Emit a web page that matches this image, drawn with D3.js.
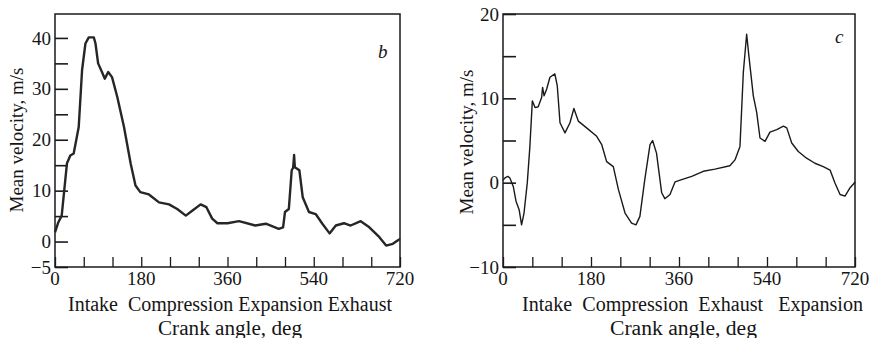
<!DOCTYPE html>
<html>
<head>
<meta charset="utf-8">
<script src="https://cdn.jsdelivr.net/npm/d3@7"></script>
<style>
  html, body { margin: 0; padding: 0; background: #fff; }
  svg { display: block; }
  text { font-family: "Liberation Serif", "DejaVu Serif", serif; fill: #151515; }
</style>
</head>
<body>
<svg id="chart" width="871" height="338"></svg>
<script>
// ---------------- data ----------------
const xTickValues = [0, 60, 120, 180, 240, 300, 360, 420, 480, 540, 600, 660, 720];
const xTickLabels = [0, 180, 360, 540, 720];

const yTickValuesB = [-5, 0, 5, 10, 15, 20, 25, 30, 35, 40];
const yTickLabelsB = [-5, 0, 10, 20, 30, 40];
const yTickValuesC = [-10, -5, 0, 5, 10, 15, 20];
const yTickLabelsC = [-10, 0, 10, 20];

const phasesB = ["Intake", "Compression", "Expansion", "Exhaust"];
const phasesC = ["Intake", "Compression", "Exhaust", "Expansion"];
const xTitle = "Crank angle, deg";
const yTitle = "Mean velocity, m/s";

const anglesB = [0, 7, 14, 25, 32, 39, 49.5, 56.5, 63.5, 70.5, 81, 84.5, 90, 98, 104, 111, 119, 130, 144, 158, 168, 178, 196, 217, 238, 255, 273, 287, 304, 316, 328, 339, 360, 384, 418, 440, 467, 476, 480, 488, 494, 497, 499, 500.5, 510, 517, 530, 544, 558, 573, 586, 603, 617, 638, 656, 677, 691, 705, 715, 720];
const velocityB = [1.8, 3.8, 5.1, 15.4, 16.9, 17.3, 22.5, 33.7, 38.9, 40.1, 40.1, 38.9, 35, 33.3, 32, 33.3, 32.3, 28.4, 22.5, 15.3, 11, 9.7, 9.25, 7.7, 7.3, 6.4, 5.1, 6.1, 7.3, 6.75, 4.5, 3.6, 3.6, 4.0, 3.15, 3.5, 2.5, 2.8, 5.8, 6.4, 14, 14.5, 17, 14.6, 14, 8.7, 5.8, 5.4, 3.5, 1.6, 3.15, 3.6, 3.15, 4.0, 2.8, 0.85, -0.8, -0.45, 0.2, 0.5];

const anglesC = [0, 5, 10, 14, 21, 26.6, 33, 38, 43, 49.7, 55, 60, 65.5, 72, 79, 81, 84, 89.4, 96, 106, 111, 116.6, 126.8, 137, 145, 154, 171, 191.6, 202, 212, 225.6, 236, 249.6, 263, 272, 280, 290, 300.7, 306, 314, 324.6, 331, 341.6, 352, 365.5, 386, 409.7, 433.6, 464, 474.5, 484.7, 491.6, 498.4, 503, 512, 519, 525.7, 536, 546, 560, 573.6, 580.4, 590.6, 604, 621, 638, 655, 669, 679, 689.4, 699.6, 710, 718.6, 720];
const velocityC = [0.3, 0.6, 0.75, 0.55, -0.45, -2.2, -3.2, -5, -3.6, 0, 4.3, 9.7, 8.9, 9.0, 10.1, 11.3, 10.3, 11.1, 12.5, 12.9, 11.5, 7.1, 5.9, 7.1, 8.8, 7.3, 6.5, 5.5, 4.5, 2.5, 1.9, -0.8, -3.6, -4.8, -5, -4, 0.36, 4.5, 5.0, 3.5, -1.2, -1.9, -1.4, 0.1, 0.36, 0.75, 1.35, 1.6, 2.0, 2.7, 4.3, 13.1, 17.6, 15, 10.3, 8.3, 5.3, 4.9, 6.0, 6.3, 6.7, 6.5, 4.7, 3.7, 2.9, 2.3, 1.9, 1.5, -0.05, -1.4, -1.6, -0.6, -0.05, 0.1];

// ---------------- layout ----------------
const svg = d3.select("#chart");

const panels = [
  {
    id: "b", tag: "b",
    angles: anglesB, values: velocityB,
    x0: 55, x1: 400, yDomain: [-5, 44.7],
    yTicks: yTickValuesB, yLabels: yTickLabelsB,
    phases: phasesB, phaseGaps: ["\u00a0\u00a0", " ", " "], phaseSpan: [68, 392],
    titleSpan: [158, 302], yTitleX: 16, yTitleY: 140,
    tagPos: [378, 58], lineWidth: 2.4, lineColor: "#262626"
  },
  {
    id: "c", tag: "c",
    angles: anglesC, values: velocityC,
    x0: 503, x1: 855, yDomain: [-10, 20],
    yTicks: yTickValuesC, yLabels: yTickLabelsC,
    phases: phasesC, phaseGaps: ["\u00a0\u00a0", "\u00a0\u00a0", "\u00a0\u00a0\u00a0"], phaseSpan: [522, 863],
    titleSpan: [610, 757], yTitleX: 466, yTitleY: 142,
    tagPos: [835, 43], lineWidth: 1.4, lineColor: "#1a1a1a"
  }
];

const plotTop = 14, plotBottom = 267;

panels.forEach(p => {
  const x = d3.scaleLinear().domain([0, 720]).range([p.x0, p.x1]);
  const y = d3.scaleLinear().domain(p.yDomain).range([plotBottom, plotTop]);
  const g = svg.append("g").attr("class", "panel-" + p.id);

  // frame
  g.append("rect")
    .attr("x", p.x0).attr("y", plotTop)
    .attr("width", p.x1 - p.x0).attr("height", plotBottom - plotTop)
    .attr("fill", "none").attr("stroke", "#1a1a1a").attr("stroke-width", 1.5);

  // x axis (ticks inward)
  const xAxis = d3.axisTop(x)
    .tickValues(xTickValues)
    .tickSize(10)
    .tickFormat("");
  const gx = g.append("g").attr("transform", `translate(0,${plotBottom})`).call(xAxis);
  gx.select(".domain").remove();
  gx.selectAll(".tick line").attr("stroke", "#1a1a1a").attr("stroke-width", 1.3);

  g.selectAll(".xlab").data(xTickLabels).join("text")
    .attr("class", "xlab")
    .attr("x", d => x(d)).attr("y", 285)
    .attr("text-anchor", "middle")
    .attr("font-size", 19)
    .text(d => d);

  // y axis (ticks inward)
  const yAxis = d3.axisRight(y)
    .tickValues(p.yTicks)
    .tickSize(13)
    .tickFormat("");
  const gy = g.append("g").attr("transform", `translate(${p.x0},0)`).call(yAxis);
  gy.select(".domain").remove();
  gy.selectAll(".tick line").attr("stroke", "#1a1a1a").attr("stroke-width", 1.6);

  g.selectAll(".ylab").data(p.yLabels).join("text")
    .attr("class", "ylab")
    .attr("x", p.x0 - 4).attr("y", d => y(d))
    .attr("dy", "0.35em")
    .attr("text-anchor", "end")
    .attr("font-size", 19)
    .text(d => d < 0 ? "\u2212" + Math.abs(d) : d);

  // curve
  const pts = p.angles.map((a, i) => [a, p.values[i]]);
  g.append("path")
    .datum(pts)
    .attr("fill", "none")
    .attr("stroke", p.lineColor)
    .attr("stroke-width", p.lineWidth)
    .attr("stroke-linejoin", "round")
    .attr("d", d3.line().x(d => x(d[0])).y(d => y(d[1])));

  // panel tag
  g.append("text")
    .attr("x", p.tagPos[0]).attr("y", p.tagPos[1])
    .attr("font-size", 19).attr("font-style", "italic")
    .text(p.tag);

  // phase labels (one row, fitted to the reference span)
  const row = p.phases.map((w, i) => w + (i < p.phaseGaps.length ? p.phaseGaps[i] : "")).join("");
  g.append("text")
    .attr("x", p.phaseSpan[0]).attr("y", 311)
    .attr("font-size", 20)
    .attr("textLength", p.phaseSpan[1] - p.phaseSpan[0])
    .attr("lengthAdjust", "spacingAndGlyphs")
    .text(row);

  // x title
  g.append("text")
    .attr("x", p.titleSpan[0]).attr("y", 335)
    .attr("font-size", 20)
    .attr("textLength", p.titleSpan[1] - p.titleSpan[0])
    .attr("lengthAdjust", "spacingAndGlyphs")
    .text(xTitle);

  // y title
  g.append("text")
    .attr("transform", `translate(${p.yTitleX},${p.yTitleY}) rotate(-90)`)
    .attr("text-anchor", "middle")
    .attr("dy", "0.35em")
    .attr("font-size", 19)
    .text(yTitle);
});
</script>
</body>
</html>
